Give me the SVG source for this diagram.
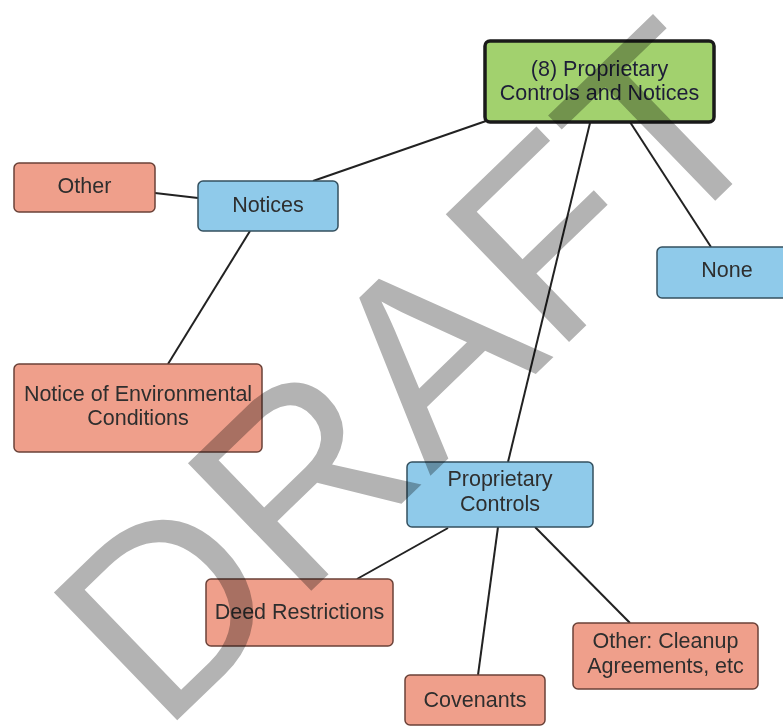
<svg xmlns="http://www.w3.org/2000/svg" width="783" height="728" viewBox="0 0 783 728">
<style>
.node text{font-family:"Liberation Sans",Arial,sans-serif;font-size:21.5px;text-anchor:middle;fill:#2e2e2e}
.salmon{fill:#ef9f8b;stroke:#6b4238;stroke-width:1.5}
.blue{fill:#8fcaea;stroke:#34505f;stroke-width:1.5}
.green{fill:#a2d16e;stroke:#1a1a1a;stroke-width:3.5}
#connectors line{stroke:#222;stroke-width:2}
.wm{font-family:"Liberation Sans",Arial,sans-serif;font-size:258px;fill:#b3b3b3;mix-blend-mode:multiply}
</style>
<rect width="783" height="728" fill="#fff"/>
<g id="connectors">
<line x1="486" y1="121" x2="313" y2="181"/>
<line x1="155" y1="193" x2="198" y2="198"/>
<line x1="250" y1="231" x2="168" y2="364"/>
<line x1="590" y1="123" x2="508" y2="462"/>
<line x1="630" y1="122" x2="711" y2="247"/>
<line x1="448" y1="528" x2="357" y2="579"/>
<line x1="498" y1="527" x2="478" y2="675"/>
<line x1="535" y1="527" x2="630" y2="623"/>
</g>
<g id="n-top" class="node"><rect class="green" x="485" y="41" width="229" height="81" rx="5"/><text x="599.5" y="76" style="fill:#1d1d38">(8) Proprietary</text><text x="599.5" y="100" style="fill:#1d1d38">Controls and Notices</text></g>
<g id="n-other" class="node"><rect class="salmon" x="14" y="163" width="141" height="49" rx="5"/><text x="84.5" y="193">Other</text></g>
<g id="n-notices" class="node"><rect class="blue" x="198" y="181" width="140" height="50" rx="5"/><text x="268" y="212">Notices</text></g>
<g id="n-none" class="node"><rect class="blue" x="657" y="247" width="140" height="51" rx="5"/><text x="727" y="277">None</text></g>
<g id="n-notice-env" class="node"><rect class="salmon" x="14" y="364" width="248" height="88" rx="5"/><text x="138" y="401">Notice of Environmental</text><text x="138" y="425">Conditions</text></g>
<g id="n-prop" class="node"><rect class="blue" x="407" y="462" width="186" height="65" rx="5"/><text x="500" y="486">Proprietary</text><text x="500" y="511">Controls</text></g>
<g id="n-deed" class="node"><rect class="salmon" x="206" y="579" width="187" height="67" rx="5"/><text x="299.5" y="619">Deed Restrictions</text></g>
<g id="n-cov" class="node"><rect class="salmon" x="405" y="675" width="140" height="50" rx="5"/><text x="475" y="706.5">Covenants</text></g>
<g id="n-cleanup" class="node"><rect class="salmon" x="573" y="623" width="185" height="66" rx="5"/><text x="665.5" y="648">Other: Cleanup</text><text x="665.5" y="673">Agreements, etc</text></g>
<text class="wm" x="162" y="735" transform="rotate(-44 162 735)">DRAFT</text>
</svg>
